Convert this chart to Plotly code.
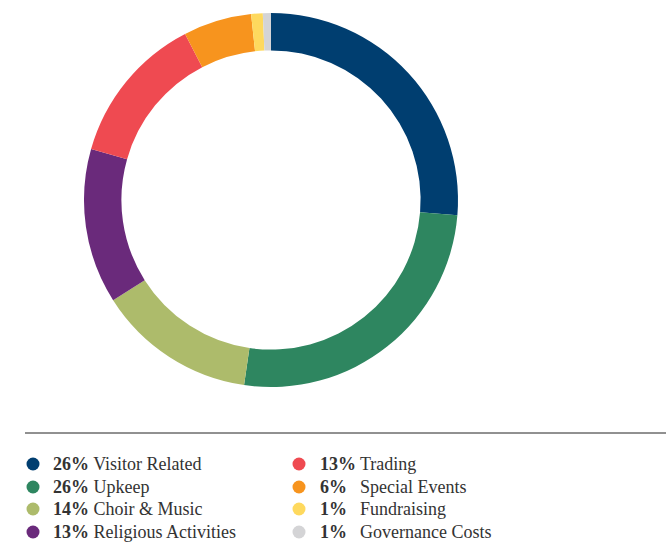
import plotly.graph_objects as go

labels = ["Visitor Related", "Upkeep", "Choir & Music", "Religious Activities",
          "Trading", "Special Events", "Fundraising", "Governance Costs"]
values = [26.3, 26.0, 13.7, 13.4, 13.0, 5.9, 1.0, 0.7]
pct_labels = ["26%", "26%", "14%", "13%", "13%", "6%", "1%", "1%"]
colors = ["#003e70", "#2e8660", "#adbb6b", "#6a2a7b", "#ef4a51", "#f7941e", "#fed95e", "#d4d4d6"]

W, H = 666, 544
fig = go.Figure()
fig.add_trace(go.Pie(
    labels=labels, values=values, sort=False, direction="clockwise", rotation=0,
    hole=0.8, marker=dict(colors=colors, line=dict(width=0)),
    textinfo="none", hoverinfo="label+percent", showlegend=False,
    domain=dict(x=[84 / W, 458 / W], y=[1 - 387 / H, 1 - 13 / H]),
))

shapes = [dict(type="line", xref="paper", yref="paper",
               x0=25 / W, x1=1, y0=1 - 433 / H, y1=1 - 433 / H,
               line=dict(color="#222222", width=1))]
annotations = []
font = dict(family="Liberation Serif, DejaVu Serif, serif", size=18, color="#333333")
row_y = [464, 487, 509, 532]
for i, (lab, pct, col) in enumerate(zip(labels, pct_labels, colors)):
    c = i // 4
    r = i % 4
    dot_x = 33 if c == 0 else 299
    pct_x = 51 if c == 0 else 318
    y = row_y[r]
    rad = 6.5
    shapes.append(dict(type="circle", xref="paper", yref="paper",
                       x0=(dot_x - rad) / W, x1=(dot_x + rad) / W,
                       y0=1 - (y + rad) / H, y1=1 - (y - rad) / H,
                       fillcolor=col, line=dict(width=0)))
    if c == 0:
        text = f"<b>{pct}</b> {lab}"
        annotations.append(dict(x=pct_x / W, y=1 - y / H, xref="paper", yref="paper",
                                text=text, showarrow=False, xanchor="left", yanchor="middle",
                                font=font))
    else:
        annotations.append(dict(x=pct_x / W, y=1 - y / H, xref="paper", yref="paper",
                                text=f"<b>{pct}</b>", showarrow=False, xanchor="left",
                                yanchor="middle", font=font))
        annotations.append(dict(x=358 / W, y=1 - y / H, xref="paper", yref="paper",
                                text=lab, showarrow=False, xanchor="left",
                                yanchor="middle", font=font))

fig.update_layout(width=W, height=H, margin=dict(l=0, r=0, t=0, b=0),
                  paper_bgcolor="white", plot_bgcolor="white",
                  shapes=shapes, annotations=annotations)
fig.write_html("out.html", config={"displayModeBar": False},
               post_script="document.body.style.margin='0';document.body.style.overflow='hidden';")
